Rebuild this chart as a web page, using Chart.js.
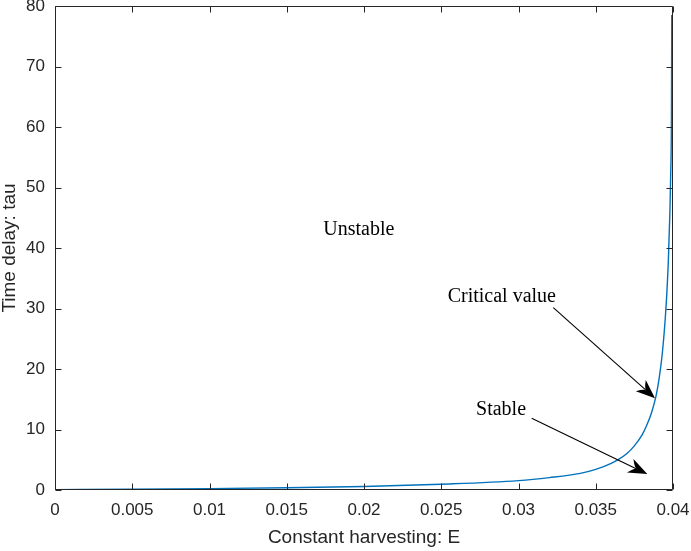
<!DOCTYPE html>
<html>
<head>
<meta charset="utf-8">
<script src="https://cdn.jsdelivr.net/npm/chart.js@4.4.1/dist/chart.umd.min.js"></script>
<style>
  html, body { margin: 0; padding: 0; background: #ffffff; }
  #wrap { width: 691px; height: 551px; position: relative; }
</style>
</head>
<body>
<div id="wrap"><canvas id="c" width="691" height="551"></canvas></div>
<script>
// ---- data ----
const harvestE = [0, 0.005, 0.01, 0.015, 0.02, 0.025, 0.03, 0.032, 0.034, 0.035, 0.036, 0.0365, 0.037, 0.0375, 0.038, 0.0383, 0.0386, 0.0389, 0.0391, 0.0393, 0.0395, 0.0396, 0.0397, 0.0398, 0.03985, 0.0399, 0.03992];
const delayTau = [0.05, 0.12, 0.22, 0.36, 0.58, 0.95, 1.55, 2.05, 2.75, 3.4, 4.4, 5.1, 6.0, 7.3, 9.1, 10.7, 12.7, 15.5, 18.4, 22.4, 28.4, 32.5, 38, 46, 52, 62, 78.5];

const xTickLabels = ['0', '0.005', '0.01', '0.015', '0.02', '0.025', '0.03', '0.035', '0.04'];
const yTickLabels = ['0', '10', '20', '30', '40', '50', '60', '70', '80'];

const noteTexts = ['Unstable', 'Critical value', 'Stable'];
const noteE     = [0.017366, 0.025417, 0.02725];
const noteTau   = [42.15, 31.12, 12.4];

// arrows: tail (E, tau) -> tip (E, tau)
const arrowTailE   = [0.032252, 0.030854];
const arrowTailTau = [30.13, 11.85];
const arrowTipE    = [0.038835, 0.038337];
const arrowTipTau  = [15.17, 2.64];

const axisColor = '#262626';

const boxPlugin = {
  id: 'matlabBox',
  afterDatasetsDraw(chart) {
    const ctx = chart.ctx;
    const { left, right, top, bottom } = chart.chartArea;
    const xs = chart.scales.x, ys = chart.scales.y;

    ctx.save();
    // annotation texts
    ctx.fillStyle = '#000000';
    ctx.font = '20px "Liberation Serif", "Times New Roman", serif';
    ctx.textAlign = 'left';
    ctx.textBaseline = 'alphabetic';
    noteTexts.forEach((t, i) => {
      ctx.fillText(t, xs.getPixelForValue(noteE[i]), ys.getPixelForValue(noteTau[i]));
    });

    // arrows
    arrowTailE.forEach((_, i) => {
      const x0 = xs.getPixelForValue(arrowTailE[i]), y0 = ys.getPixelForValue(arrowTailTau[i]);
      const x1 = xs.getPixelForValue(arrowTipE[i]),  y1 = ys.getPixelForValue(arrowTipTau[i]);
      const dx = x1 - x0, dy = y1 - y0, len = Math.hypot(dx, dy);
      const ux = dx / len, uy = dy / len, nx = -uy, ny = ux;
      const L = 19, W = 7.5, notch = 0.62;
      ctx.strokeStyle = '#000000';
      ctx.lineWidth = 1.1;
      ctx.beginPath();
      ctx.moveTo(x0, y0);
      ctx.lineTo(x1 - ux * L * notch, y1 - uy * L * notch);
      ctx.stroke();
      ctx.fillStyle = '#000000';
      ctx.beginPath();
      ctx.moveTo(x1, y1);
      ctx.lineTo(x1 - ux * L + nx * W, y1 - uy * L + ny * W);
      ctx.quadraticCurveTo(x1 - ux * L * 0.75, y1 - uy * L * 0.75, x1 - ux * L * notch, y1 - uy * L * notch);
      ctx.quadraticCurveTo(x1 - ux * L * 0.75, y1 - uy * L * 0.75, x1 - ux * L - nx * W, y1 - uy * L - ny * W);
      ctx.closePath();
      ctx.fill();
    });

    // box
    const l = Math.round(left) + 0.5, r = Math.round(right) - 0.5;
    const t = Math.round(top) + 0.5, b = Math.round(bottom) - 0.5;
    ctx.strokeStyle = axisColor;
    ctx.lineWidth = 1;
    ctx.beginPath();
    ctx.rect(l, t, r - l, b - t);
    ctx.stroke();

    // inside ticks on all four sides
    const tl = 6;
    ctx.beginPath();
    xs.ticks.forEach(tk => {
      const px = Math.round(xs.getPixelForValue(tk.value)) + 0.5;
      ctx.moveTo(px, b); ctx.lineTo(px, b - tl);
      ctx.moveTo(px, t); ctx.lineTo(px, t + tl);
    });
    ys.ticks.forEach(tk => {
      const py = Math.round(ys.getPixelForValue(tk.value)) + 0.5;
      ctx.moveTo(l, py); ctx.lineTo(l + tl, py);
      ctx.moveTo(r, py); ctx.lineTo(r - tl, py);
    });
    ctx.stroke();
    ctx.restore();
  }
};

const points = harvestE.map((e, i) => ({ x: e, y: delayTau[i] }));

new Chart(document.getElementById('c'), {
  type: 'line',
  data: {
    datasets: [{
      data: points,
      borderColor: '#0072BD',
      borderWidth: 1.4,
      pointRadius: 0,
      fill: false,
      cubicInterpolationMode: 'monotone'
    }]
  },
  options: {
    responsive: false,
    animation: false,
    devicePixelRatio: 1,
    layout: { padding: { left: 0, right: 18, top: 6, bottom: 0 } },
    plugins: { legend: { display: false }, tooltip: { enabled: false } },
    scales: {
      x: {
        type: 'linear',
        min: 0, max: 0.04,
        grid: { display: true, drawOnChartArea: false, drawTicks: false },
        border: { display: false },
        ticks: {
          stepSize: 0.005,
          autoSkip: false,
          maxRotation: 0,
          padding: 10,
          color: axisColor,
          font: { family: '"Liberation Sans", Arial, sans-serif', size: 17 },
          callback: (v, i) => xTickLabels[i]
        },
        title: {
          display: true,
          text: 'Constant harvesting: E',
          color: axisColor,
          font: { family: '"Liberation Sans", Arial, sans-serif', size: 19 },
          padding: { top: 0, bottom: 2 }
        },
        afterFit(s) { s.height = 61; s.paddingLeft = 0; s.paddingRight = 0; }
      },
      y: {
        min: 0, max: 80,
        grid: { display: true, drawOnChartArea: false, drawTicks: false },
        border: { display: false },
        ticks: {
          stepSize: 10,
          padding: 10,
          color: axisColor,
          font: { family: '"Liberation Sans", Arial, sans-serif', size: 17 },
          callback: (v, i) => yTickLabels[i]
        },
        title: {
          display: true,
          text: 'Time delay: tau',
          color: axisColor,
          font: { family: '"Liberation Sans", Arial, sans-serif', size: 19, lineHeight: 1.05 },
          padding: { top: 0, bottom: 0 }
        },
        afterFit(s) { s.width = 55; s.paddingTop = 0; s.paddingBottom = 0; }
      }
    }
  },
  plugins: [boxPlugin]
});
</script>
</body>
</html>
